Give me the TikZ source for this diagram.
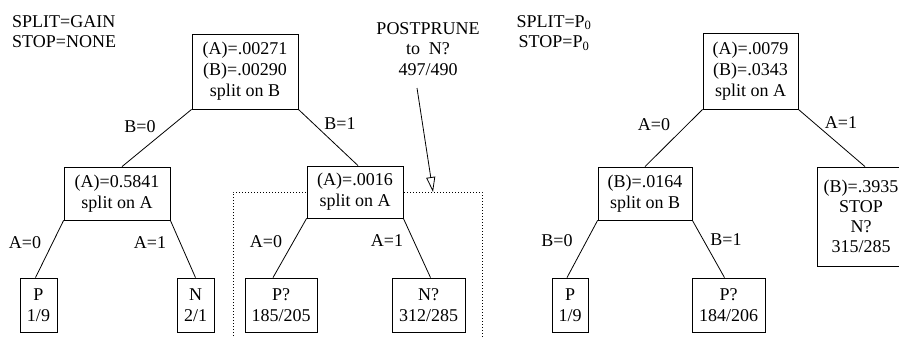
\documentclass[tikz,border=0pt]{standalone}
\usepackage{fontspec}
\setmainfont{Liberation Serif}
\usetikzlibrary{arrows.meta}
\newcommand{\treefont}{\fontsize{18}{21}\selectfont}
\tikzset{
    testnode/.style={draw, line width=0.8pt, fill=white, align=center, inner sep=0pt, font=\treefont},
    leafnode/.style={testnode, minimum height=54pt},
    branch/.style={inner sep=0pt, font=\treefont},
    note/.style={inner sep=0pt, font=\fontsize{18}{20.5}\selectfont},
    edge/.style={line width=0.8pt},
    prunebox/.style={line width=0.8pt, dash pattern=on 1pt off 2pt}
}
\begin{document}
\begin{tikzpicture}[x=1pt, y=-1pt]
    \useasboundingbox (0,0) rectangle (899,337);

    % Settings of the two runs
    \node[note, align=left, anchor=north west] (runA) at (12,15) {SPLIT=GAIN\\STOP=NONE};
    \node[note, align=center, anchor=north] (runB) at (554,15) {SPLIT=P\textsubscript{0}\\STOP=P\textsubscript{0}};

    % Postprune region
    \draw[prunebox] (233,345) -- (233,192) -- (482,192) -- (482,345);
    \node[note, align=center, anchor=north] (prune) at (428,22) {POSTPRUNE\\to\ \ N?\\497/490};
    \coordinate (pruneTail) at (417,88);
    \coordinate (pruneTip) at (433,192);
    \draw[edge, -{Triangle[open, length=15pt, width=9pt]}] (pruneTail) -- (pruneTip);

    % Left tree: SPLIT=GAIN
    \node[testnode, minimum width=106pt, minimum height=75pt] (rootA) at (245,71.5) {(A)=.00271\\(B)=.00290\\split on B};
    \node[testnode, minimum width=106pt, minimum height=53pt] (nB0) at (117,193.5) {(A)=0.5841\\split on A};
    \node[testnode, minimum width=96pt, minimum height=52pt] (nB1) at (355,192) {(A)=.0016\\split on A};
    \node[leafnode, minimum width=37pt] (lfA) at (38.5,305) {P\\1/9};
    \node[leafnode, minimum width=37pt] (lfB) at (195.5,305) {N\\2/1};
    \node[leafnode, minimum width=72pt] (lfC) at (281,305) {P?\\185/205};
    \node[leafnode, minimum width=73pt] (lfD) at (428.5,305) {N?\\312/285};

    \draw[edge] (rootA.south west) -- ([xshift=5pt]nB0.north);
    \draw[edge] (rootA.south east) -- ([xshift=3pt]nB1.north);
    \draw[edge] (nB0.south west) -- ([xshift=-3pt]lfA.north);
    \draw[edge] (nB0.south east) -- (lfB.north);
    \draw[edge] (nB1.south west) -- ([xshift=-8pt]lfC.north);
    \draw[edge] (nB1.south east) -- ([xshift=2pt]lfD.north);

    \node[branch] (eB0) at (140,127) {B=0};
    \node[branch] (eB1) at (340,124) {B=1};
    \node[branch] (eA0l) at (25,243) {A=0};
    \node[branch] (eA1l) at (150,243) {A=1};
    \node[branch] (eA0r) at (266,242) {A=0};
    \node[branch] (eA1r) at (387,241) {A=1};

    % Right tree: SPLIT=P0
    \node[testnode, minimum width=95pt, minimum height=76pt] (rootB) at (750.5,71) {(A)=.0079\\(B)=.0343\\split on A};
    \node[testnode, minimum width=94pt, minimum height=53pt] (nA0) at (645,193.5) {(B)=.0164\\split on B};
    \node[testnode, minimum width=88pt, minimum height=99pt, font=\fontsize{18}{20}\selectfont] (nA1) at (861,216.5) {(B)=.3935\\STOP\\N?\\315/285};
    \node[leafnode, minimum width=36pt] (lfE) at (570,305) {P\\1/9};
    \node[leafnode, minimum width=73pt] (lfF) at (728.5,305) {P?\\184/206};

    \draw[edge] (rootB.south west) -- (nA0.north);
    \draw[edge] (rootB.south east) -- ([xshift=4pt]nA1.north);
    \draw[edge] (nA0.south west) -- ([xshift=-3pt]lfE.north);
    \draw[edge] (nA0.south east) -- ([xshift=-4pt]lfF.north);

    \node[branch] (fA0) at (654,125) {A=0};
    \node[branch] (fA1) at (841,123) {A=1};
    \node[branch] (fB0) at (557,241) {B=0};
    \node[branch] (fB1) at (726,240) {B=1};
\end{tikzpicture}
\end{document}
